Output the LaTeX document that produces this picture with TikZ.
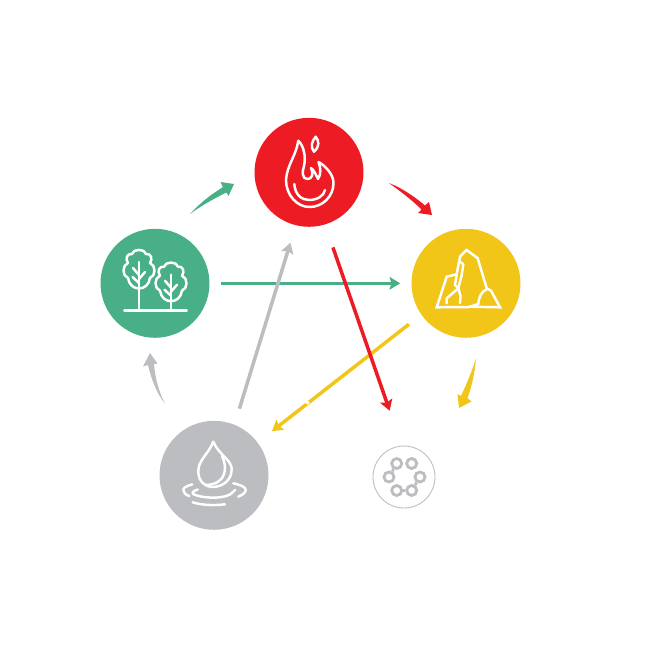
\documentclass[tikz,border=0pt]{standalone}
\usepackage{xcolor}
\usetikzlibrary{arrows.meta}
\definecolor{firered}{HTML}{ED1C24}
\definecolor{woodgreen}{HTML}{49AF87}
\definecolor{earthyellow}{HTML}{F2C618}
\definecolor{watergrey}{HTML}{BCBDC0}
\begin{document}
\begin{tikzpicture}[
    x=0.02cm, y=-0.02cm,
    elementnode/.style={circle, draw=none, inner sep=0pt, minimum size=2.18cm},
    metalnode/.style={circle, draw=watergrey, line width=0.5pt, inner sep=0pt, minimum size=1.24cm},
    ringnode/.style={circle, draw=watergrey, line width=1.6pt, inner sep=0pt, minimum size=0.2cm},
    icon/.style={draw=white, line width=1.4pt, line cap=round, line join=round},
    link/.style={line width=2pt, -{Stealth[length=0.21cm, width=0.25cm, inset=0.035cm]}},
]
\useasboundingbox (0,0) rectangle (650,650);
\node[elementnode, fill=firered](fire) at (309,172.3){};
\node[elementnode, fill=woodgreen](wood) at (155,283.3){};
\node[elementnode, fill=earthyellow](earth) at (466,283.3){};
\node[elementnode, fill=watergrey](water) at (214,475.3){};
\node[metalnode](metal) at (404,477){};
% straight arrows
\draw[link, woodgreen, shorten <=0.23cm, shorten >=0.22cm] (wood.0) -- (earth.180);
\draw[link, watergrey, shorten <=0.33cm, shorten >=0.36cm] (water.68) -- (fire.256);
\draw[link, earthyellow, shorten <=0.31cm, shorten >=0.36cm] (earth.215) -- (water.37);
\draw[white, line width=2.8pt] (305.8,402.9) -- (308.2,401);
\draw[link, firered, shorten <=0.48cm, shorten >=0.74cm] (fire.287) -- (metal.94);
% tapered arrows
\coordinate (woodtail) at (190,214);
\coordinate (firehead) at (234,184);
\coordinate (firetail) at (389,183);
\coordinate (earthhead) at (432,215);
\coordinate (earthtail) at (476,358);
\coordinate (metalhead) at (459,408);
\coordinate (watertail) at (165,404);
\coordinate (woodhead) at (150,353);
\fill[woodgreen] (woodtail) .. controls (202,201) and (212,194) .. (223,187) -- (220.5,182) -- (firehead) -- (228.5,196) -- (226.5,192.5) .. controls (213,199) and (201,206) .. cycle;
\fill[firered] (firetail) .. controls (402,188) and (415,197) .. (425,205.5) -- (429,202) -- (earthhead) -- (418,213) -- (421.5,209.5) .. controls (412,200) and (400,191) .. cycle;
\fill[earthyellow] (earthtail) .. controls (475,372) and (472,386) .. (467.5,398) -- (471.5,401.5) -- (metalhead) -- (457.5,394) -- (461,396) .. controls (467,383) and (472.5,370) .. cycle;
\fill[watergrey] (watertail) .. controls (156,392) and (151,378) .. (148,365) -- (143,366.5) -- (woodhead) -- (157.5,363.5) -- (154,364) .. controls (155,378) and (159,392) .. cycle;
% flame
\draw[icon] (298.3,140.7) .. controls (296,156) and (287,165) .. (286,180) .. controls (286,195) and (297,207) .. (309.5,207) .. controls (323,207) and (333.5,196) .. (333.5,183) .. controls (333.5,175) and (326,166) .. (318.5,162) .. controls (321,168) and (321,175) .. (318,179) .. controls (316,175) and (314,170) .. (311,168) .. controls (314,174) and (312,179) .. (307.5,179) .. controls (302,179) and (302,172) .. (304,166) .. controls (306,157) and (304,146) .. (298.3,140.7) -- cycle;
\draw[icon] (294.3,184) .. controls (295,195) and (302,200) .. (309,200) .. controls (317,200) and (324,196) .. (325,190);
\draw[icon] (315.7,136.7) .. controls (319,141) and (320,146) .. (314,151.7) .. controls (310,147) and (312,141) .. (315.7,136.7) -- cycle;
% trees
\draw[icon] (124.3,310.7) -- (186.7,310.7);
\foreach \treex/\treey in {139/250, 171/262.7}{
  \begin{scope}[shift={(\treex,\treey)}]
    \draw[icon] (-7,4) .. controls (-6,-1.5) and (6,-1.5) .. (7,4) .. controls (12,3) and (14,9) .. (11,13) .. controls (17,15) and (17,26) .. (11,28) .. controls (9,42) and (-9,42) .. (-11,28) .. controls (-17,26) and (-17,15) .. (-11,13) .. controls (-14,9) and (-12,3) .. (-7,4) -- cycle;
    \draw[icon] (0,12) -- (0,60.7-\treey+250);
    \draw[icon] (0,25) -- (-6,18);
    \draw[icon] (0,33) -- (-6.5,27);
    \draw[icon] (0,29) -- (6,22);
  \end{scope}
}
% rock
\draw[icon, line join=miter] (470,306.7) -- (500,307.3) -- (491,290.7) -- (486.7,288.3) -- (477.7,258.3) -- (466.7,250) -- (460,256.7) -- (456.7,274.3) -- (446.7,276.7) -- (436.7,307.3) -- (470,307);
\draw[icon] (486.7,289.5) .. controls (482,291) and (479,296) .. (478.3,304) -- (470,306.7);
\draw[icon] (460,261.7) -- (463.3,264.3) -- (461.7,275) -- (458.3,288.3) -- (460.5,296) -- (460,303);
\draw[icon] (456.7,274.3) -- (455,285) -- (458.3,288.3) -- (446.7,298.3) -- (446.7,303.3);
% drop
\draw[icon] (213.3,441.7) .. controls (208,455) and (198,460) .. (198.3,472) .. controls (198.5,481) and (205,487) .. (212,487) .. controls (223,487) and (231.7,480) .. (231.7,469) .. controls (231.7,460) and (219,455) .. (213.3,441.7) -- cycle;
\draw[icon] (222,456) .. controls (227,466) and (228,484) .. (206,485);
\draw[icon] (192.3,484.3) .. controls (186,486) and (183.3,488) .. (183.3,490) .. controls (183.3,493) and (186,495) .. (189.3,496);
\draw[icon] (197.7,489.5) .. controls (193,491) and (191,493) .. (194,494.5) .. controls (205,499) and (228,499) .. (233,492) -- (235,490);
\draw[icon] (233.3,483.3) .. controls (241,485) and (245.7,487) .. (245.7,490) .. controls (245.7,493) and (242,495) .. (238.3,496.7);
\draw[icon] (192.7,502.3) .. controls (203,505.5) and (215,505.5) .. (225,504.3);
% metal rings
\node[ringnode](ringa) at (396.7,463.5){};
\node[ringnode](ringb) at (411.7,463.5){};
\node[ringnode](ringc) at (389,477){};
\node[ringnode](ringd) at (420,477){};
\node[ringnode](ringe) at (396.7,490.5){};
\node[ringnode](ringf) at (411.7,490.5){};
\draw[watergrey, line width=1.6pt] (ringa) -- (ringc);
\draw[watergrey, line width=1.6pt] (ringe) -- (ringf);
\draw[watergrey, line width=1.6pt] (ringf) -- (ringd);
\end{tikzpicture}
\end{document}
